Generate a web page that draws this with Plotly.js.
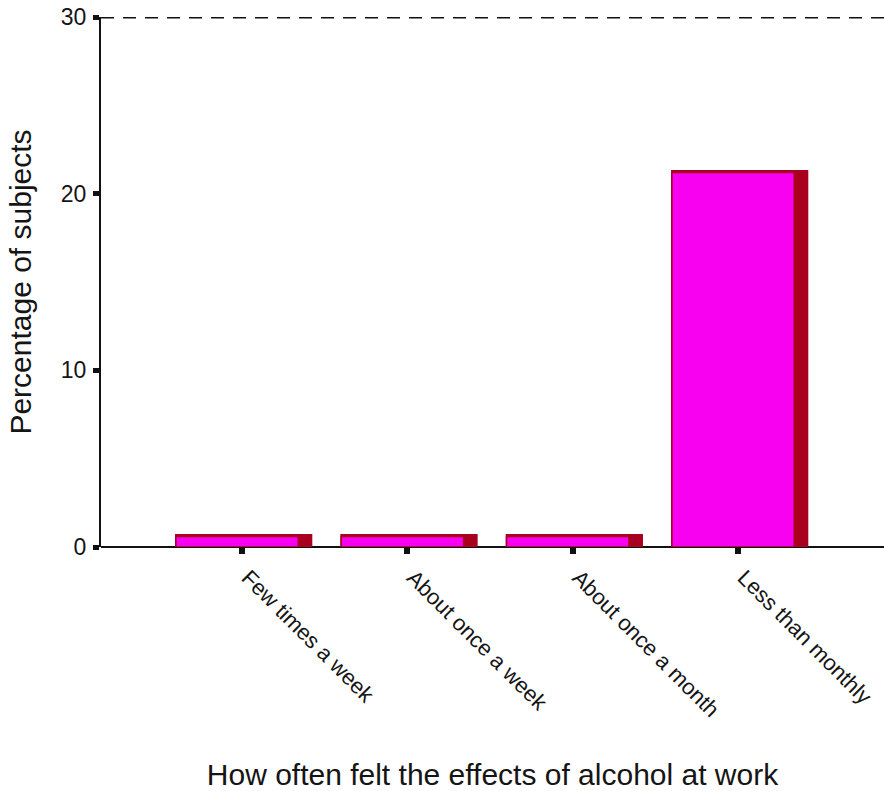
<!DOCTYPE html>
<html>
<head>
<meta charset="utf-8">
<script src="https://cdn.plot.ly/plotly-3.0.1.min.js"></script>
<style>html,body{margin:0;padding:0;background:#fff;}#chart{width:884px;height:791px;}</style>
</head>
<body>
<div id="chart"></div>
<script>
var categories = ["Few times a week", "About once a week", "About once a month", "Less than monthly"];
var percentages = [0.6, 0.6, 0.6, 21.2];
var yTickValues = [0, 10, 20, 30];
var yTickLabels = ["0", "10", "20", "30"];

var faceColor = "#F800F0";
var edgeColor = "#A8001E";
var textColor = "#151515";
var fontFamily = "Liberation Sans, Arial, sans-serif";

var shadow = {
  type: "bar",
  x: categories,
  y: percentages,
  width: 0.8,
  offset: -0.39,
  marker: {color: edgeColor, line: {color: edgeColor, width: 5}},
  hoverinfo: "skip"
};
var face = {
  type: "bar",
  x: categories,
  y: percentages,
  width: 0.74,
  offset: -0.4,
  marker: {color: faceColor, line: {color: edgeColor, width: 1.5}}
};

var layout = {
  width: 884,
  height: 791,
  margin: {l: 101, r: 0, t: 17, b: 244},
  paper_bgcolor: "#ffffff",
  plot_bgcolor: "#ffffff",
  showlegend: false,
  barmode: "overlay",
  font: {family: fontFamily, color: textColor},
  xaxis: {
    type: "category",
    range: [-0.853, 3.883],
    showgrid: false,
    zeroline: false,
    showline: false,
    ticks: "outside",
    ticklen: 6,
    tickwidth: 6,
    tickcolor: "#111111",
    tickangle: 45,
    ticklabelstandoff: 2,
    ticklabelshift: 6,
    tickfont: {size: 22, family: fontFamily, color: textColor},
    title: {text: "How often felt the effects of alcohol at work", font: {size: 30, family: fontFamily, color: textColor}, standoff: 52},
    automargin: false,
    fixedrange: true
  },
  yaxis: {
    range: [0, 30],
    tickvals: yTickValues,
    ticktext: yTickLabels,
    showgrid: false,
    zeroline: true,
    zerolinecolor: "#111111",
    zerolinewidth: 2,
    showline: true,
    linecolor: "#111111",
    linewidth: 2,
    ticks: "outside",
    ticklen: 6,
    tickwidth: 5,
    tickcolor: "#111111",
    ticklabelstandoff: 2,
    tickfont: {size: 23, family: fontFamily, color: textColor},
    title: {text: "Percentage of subjects", font: {size: 30, family: fontFamily, color: textColor}, standoff: 20},
    automargin: false,
    fixedrange: true
  },
  shapes: [{
    type: "line", xref: "paper", yref: "y",
    x0: 0, x1: 1, y0: 30, y1: 30,
    line: {color: "#111111", width: 3, dash: "13px,9px"}
  }]
};

Plotly.newPlot("chart", [shadow, face], layout, {displayModeBar: false, staticPlot: true});
</script>
</body>
</html>
